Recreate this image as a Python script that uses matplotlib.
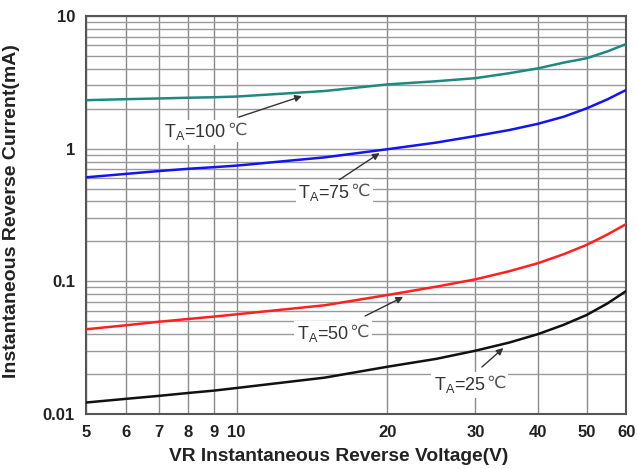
"""Reverse current vs reverse voltage, four temperatures, log-log."""
import matplotlib
matplotlib.use("Agg")
import matplotlib.pyplot as plt
from matplotlib.ticker import FixedLocator, NullFormatter, LogLocator

plt.rcParams["font.family"] = ["Liberation Sans", "DejaVu Sans"]
plt.rcParams["mathtext.fontset"] = "custom"
plt.rcParams["mathtext.rm"] = "Liberation Sans"

# data
vr = [5, 6, 7, 8, 9, 10, 15, 20, 25, 30, 35, 40, 45, 50, 55, 60]
ir_100 = [2.32, 2.36, 2.39, 2.42, 2.44, 2.47, 2.72, 3.05, 3.22, 3.40, 3.70, 4.03, 4.45, 4.80, 5.40, 6.15]
ir_75 = [0.608, 0.645, 0.678, 0.705, 0.725, 0.745, 0.86, 0.99, 1.11, 1.245, 1.38, 1.54, 1.74, 2.01, 2.35, 2.77]
ir_50 = [0.0435, 0.0466, 0.0496, 0.052, 0.0542, 0.0564, 0.066, 0.0788, 0.091, 0.1035, 0.119, 0.137, 0.16, 0.188, 0.225, 0.27]
ir_25 = [0.0122, 0.0130, 0.0137, 0.0144, 0.0150, 0.0157, 0.0188, 0.0227, 0.026, 0.030, 0.0345, 0.040, 0.047, 0.0557, 0.068, 0.0845]

labels = ["100", "75", "50", "25"]
x_ticks = [5, 6, 7, 8, 9, 10, 20, 30, 40, 50, 60]
y_ticks = [0.01, 0.1, 1, 10]
y_ticklabels = ["0.01", "0.1", "1", "10"]

# label placement: text centre, arrow tail, arrow tip (data coords)
label_pos = [(8.57, 1.33), (15.5, 0.463), (15.4, 0.0401), (28.9, 0.0165)]
arrow_tail = [(10.1, 1.73), (16.0, 0.58), (18.06, 0.0548), (30.9, 0.0226)]
arrow_tip = [(13.5, 2.49), (19.3, 0.926), (21.5, 0.0762), (34.1, 0.0314)]

colors = ["#20897f", "#1414f0", "#ff2020", "#111111"]

fig = plt.figure(figsize=(6.37, 4.69), dpi=100)
ax = fig.add_axes([0.135, 0.1173, 0.848, 0.8486])

for ys, c in zip([ir_100, ir_75, ir_50, ir_25], colors):
    ax.plot(vr, ys, color=c, lw=1.8, zorder=3)

ax.set_xscale("log")
ax.set_yscale("log")
ax.set_xlim(5, 60)
ax.set_ylim(0.01, 10)

ax.xaxis.set_major_locator(FixedLocator(x_ticks))
ax.xaxis.set_minor_locator(FixedLocator([]))
ax.set_xticklabels([str(t) for t in x_ticks])
ax.xaxis.set_minor_formatter(NullFormatter())
ax.yaxis.set_major_locator(FixedLocator(y_ticks))
ax.set_yticklabels(y_ticklabels)
ax.yaxis.set_minor_locator(LogLocator(base=10, subs=range(2, 10)))
ax.yaxis.set_minor_formatter(NullFormatter())

ax.grid(True, which="both", axis="y", color="#9a9a9a", lw=1.0, zorder=1)
ax.grid(True, which="major", axis="x", color="#8a8a8a", lw=1.0, zorder=1)
ax.tick_params(which="both", length=0, pad=8, labelsize=12, colors="#222222")
for lab in ax.get_xticklabels() + ax.get_yticklabels():
    lab.set_fontweight("bold")
for s in ax.spines.values():
    s.set_color("#555555")
    s.set_linewidth(1.5)

ax.set_xlabel("VR Instantaneous Reverse Voltage(V)", fontsize=13.8,
              fontweight="bold", color="#222222", labelpad=6)
ax.xaxis.set_label_coords(0.4685, -0.085)
ax.set_ylabel("Instantaneous Reverse Current(mA)", fontsize=14,
              fontweight="bold", color="#222222")
ax.yaxis.set_label_coords(-0.122, 0.509)

for lab, pos, tail, tip in zip(labels, label_pos, arrow_tail, arrow_tip):
    ax.annotate("", xy=tip, xytext=tail,
                arrowprops=dict(arrowstyle="-|>", color="#333333", lw=1.0,
                                mutation_scale=10, shrinkA=0, shrinkB=0),
                zorder=4)
    main = ax.annotate("T$_{\\rm A}$=" + lab, xy=pos, xytext=(-5.5, 0),
                       textcoords="offset points", fontsize=13,
                       color="#333333", ha="center", va="center", zorder=5,
                       bbox=dict(facecolor="white", edgecolor="none", pad=2))
    # degree sign from DejaVu, tucked under the main label's box
    ax.annotate("\u2103", xy=(1, 0.6), xycoords=main, xytext=(0.3, 0),
                textcoords="offset points", fontsize=12.5, family="DejaVu Sans",
                color="#555555", ha="left", va="center", zorder=4.9,
                bbox=dict(facecolor="white", edgecolor="none", pad=2))

fig.savefig("out.png", dpi=100)
